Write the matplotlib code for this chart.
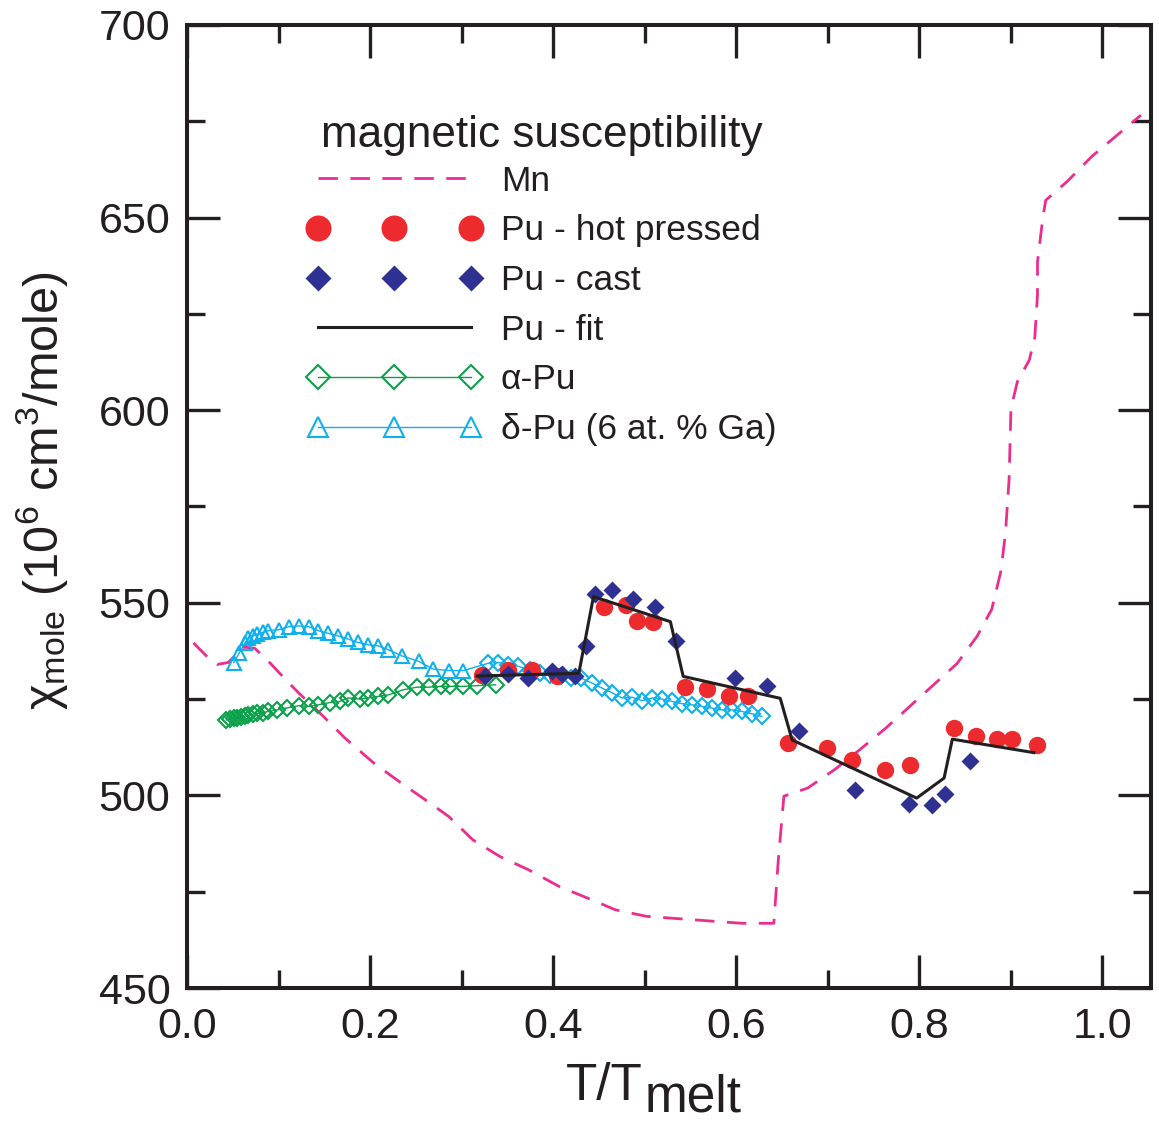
import numpy as np
import matplotlib
matplotlib.use("Agg")
from matplotlib import pyplot as plt

plt.rcParams['font.family'] = ['Liberation Sans', 'DejaVu Sans']
plt.rcParams['mathtext.fontset'] = 'custom'
plt.rcParams['mathtext.rm'] = 'Liberation Sans'
plt.rcParams['mathtext.it'] = 'Liberation Sans:italic'
plt.rcParams['mathtext.bf'] = 'Liberation Sans:bold'

# Mn (dashed)
mn_x = [0.007, 0.022, 0.033, 0.045, 0.062, 0.074, 0.091, 0.104, 0.122, 0.149, 0.172,
        0.204, 0.234, 0.260, 0.286, 0.312, 0.342, 0.373, 0.407, 0.438, 0.468, 0.502,
        0.554, 0.606, 0.641, 0.646, 0.652, 0.678, 0.708, 0.734, 0.763, 0.789, 0.815,
        0.841, 0.863, 0.879, 0.889, 0.894, 0.898, 0.900, 0.907, 0.920, 0.926, 0.929,
        0.929, 0.935, 0.938, 0.962, 0.988, 1.016, 1.042]
mn_y = [539.6, 536.0, 534.0, 534.5, 538.5, 538.2, 534.3, 531.0, 526.6, 520.5, 515.0,
        508.4, 503.2, 498.9, 494.5, 488.5, 484.1, 480.7, 476.3, 473.3, 470.3, 468.6,
        467.7, 466.8, 466.8, 483.6, 499.8, 501.9, 506.8, 511.7, 517.4, 523.0, 528.6,
        534.2, 541.3, 548.3, 558.2, 568.0, 582.1, 600.4, 607.4, 613.0, 618.7, 629.9,
        638.4, 650.3, 654.5, 659.5, 665.8, 671.4, 676.6]

# Pu - hot pressed
hp_x = [0.322, 0.351, 0.377, 0.404, 0.455, 0.479, 0.491, 0.509, 0.544, 0.568, 0.592,
        0.613, 0.657, 0.699, 0.726, 0.762, 0.790, 0.838, 0.862, 0.885, 0.901, 0.929]
hp_y = [531.3, 532.5, 532.5, 531.0, 549.0, 549.5, 545.4, 544.9, 528.1, 527.6, 525.9,
        525.9, 513.7, 512.4, 509.2, 506.6, 507.9, 517.5, 515.3, 514.6, 514.6, 513.1]

# Pu - cast
cast_x = [0.326, 0.351, 0.373, 0.399, 0.410, 0.424, 0.436, 0.446, 0.464, 0.487, 0.511,
          0.534, 0.599, 0.633, 0.668, 0.730, 0.789, 0.814, 0.828, 0.855]
cast_y = [530.9, 531.5, 530.5, 532.2, 531.5, 530.9, 538.8, 552.3, 553.2, 551.0, 548.9,
          540.2, 530.5, 528.3, 516.7, 501.5, 497.8, 497.6, 500.3, 509.0]

# Pu - fit
fit_x = [0.317, 0.428, 0.444, 0.528, 0.542, 0.648, 0.661, 0.797, 0.827, 0.836, 0.925]
fit_y = [531.0, 531.7, 551.6, 545.1, 530.9, 525.2, 514.4, 499.3, 504.5, 514.6, 511.1]

# alpha-Pu
alpha_x = [0.043, 0.047, 0.051, 0.055, 0.059, 0.063, 0.067, 0.072, 0.076, 0.083, 0.089,
           0.098, 0.109, 0.122, 0.133, 0.143, 0.156, 0.167, 0.176, 0.189, 0.198, 0.209,
           0.220, 0.236, 0.251, 0.264, 0.277, 0.287, 0.302, 0.317, 0.337]
alpha_y = [519.6, 519.8, 520.0, 520.2, 520.4, 520.6, 520.8, 521.1, 521.3, 521.5, 521.8,
           522.2, 522.7, 523.3, 523.1, 523.5, 524.1, 524.4, 525.3, 525.0, 525.3, 525.7,
           526.1, 527.4, 528.1, 528.1, 528.3, 528.3, 528.3, 528.5, 528.7]

# delta-Pu (6 at. % Ga): triangles at low T, open diamonds above
dtri_x = [0.051, 0.057, 0.063, 0.067, 0.072, 0.077, 0.083, 0.089, 0.100, 0.111, 0.122,
          0.133, 0.143, 0.154, 0.165, 0.176, 0.187, 0.198, 0.209, 0.220, 0.235, 0.253,
          0.269, 0.286, 0.302]
dtri_y = [534.5, 536.9, 539.5, 540.8, 541.4, 541.9, 542.3, 542.8, 543.0, 543.8, 544.0,
          543.8, 542.8, 542.1, 541.4, 540.6, 539.7, 539.1, 538.8, 537.8, 536.2, 534.8,
          532.8, 532.4, 532.4]
ddia_x = [0.329, 0.340, 0.351, 0.362, 0.375, 0.386, 0.397, 0.408, 0.419, 0.430, 0.442,
          0.453, 0.464, 0.475, 0.486, 0.497, 0.508, 0.519, 0.530, 0.541, 0.552, 0.563,
          0.573, 0.584, 0.595, 0.606, 0.617, 0.628]
ddia_y = [534.3, 534.5, 533.9, 533.5, 532.6, 531.8, 531.3, 531.0, 530.5, 530.5, 529.2,
          527.9, 526.7, 525.3, 525.5, 524.6, 525.3, 525.0, 524.4, 523.8, 523.5, 523.1,
          522.7, 522.2, 522.2, 521.8, 521.2, 520.5]

pink = '#EC2D8F'
red = '#ED2B2F'
navy = '#2E3192'
green = '#0BA14B'
cyan = '#10B0EC'
black = '#231F20'

W, H = 1159, 1130
fig = plt.figure(figsize=(W / 100, H / 100), dpi=100)
ax = fig.add_axes([0.16135, 0.12566, 0.83175, 0.85222])

ax.plot(mn_x, mn_y, color=pink, lw=2.0, ls=(0, (7, 4.5)), label='Mn', zorder=2)
ax.plot(alpha_x, alpha_y, '-', color=green, lw=1.0, marker='D', ms=8, mfc='none',
        mec=green, mew=1.5, label='α-Pu', zorder=3)
ax.plot(np.concatenate([dtri_x, ddia_x]), np.concatenate([dtri_y, ddia_y]), '-',
        color=cyan, lw=1.0, zorder=3)
ax.plot(dtri_x, dtri_y, 'none', marker='^', ms=10, mfc='none', mec=cyan, mew=1.5,
        zorder=3)
ax.plot(ddia_x, ddia_y, 'none', marker='D', ms=8, mfc='none', mec=cyan, mew=1.5,
        zorder=3)
ax.plot(hp_x, hp_y, 'o', color=red, ms=12.5, mec='none', label='Pu - hot pressed', zorder=4)
ax.plot(cast_x, cast_y, 'D', color=navy, ms=9, mec='none', label='Pu - cast', zorder=5)
ax.plot(fit_x, fit_y, '-', color=black, lw=2.2, label='Pu - fit', zorder=6)
# legend entry for delta-Pu
ax.plot([], [], '-', color=cyan, lw=1.0, marker='^', ms=10, mfc='none',
        mec=cyan, mew=1.5, label='δ-Pu (6 at. % Ga)')

ax.set_xlim(0, 1.053)
ax.set_ylim(450, 700)
ax.set_xticks([0.0, 0.2, 0.4, 0.6, 0.8, 1.0])
ax.set_xticklabels(['0.0', '0.2', '0.4', '0.6', '0.8', '1.0'])
ax.set_xticks(np.arange(0.1, 1.05, 0.2), minor=True)
ax.set_yticks(np.arange(450, 701, 50))
ax.set_yticks(np.arange(475, 700, 50), minor=True)
ax.tick_params(which='both', direction='in', top=True, right=True, width=2.4,
               color=black, labelsize=31, labelcolor=black)
ax.tick_params(which='major', length=24)
ax.tick_params(which='minor', length=13)
ax.tick_params(axis='x', pad=14)
ax.tick_params(axis='y', pad=12)
for sp in ax.spines.values():
    sp.set_linewidth(2.9)
    sp.set_color(black)

handles, labels = ax.get_legend_handles_labels()
order = ['Mn', 'Pu - hot pressed', 'Pu - cast', 'Pu - fit', 'α-Pu', 'δ-Pu (6 at. % Ga)']
hmap = dict(zip(labels, handles))
leg = ax.legend([hmap[k] for k in order], order,
                numpoints=3, frameon=False, fontsize=25.5,
                handlelength=4.9, handletextpad=0.56, labelspacing=0.47,
                markerscale=1.5, loc='upper left', bbox_to_anchor=(0.1251, 0.8549),
                borderaxespad=0, borderpad=0)
for t in leg.get_texts():
    t.set_color(black)
# legend heading
ax.text(0.3683, 0.8733, 'magnetic susceptibility', transform=ax.transAxes,
        ha='center', va='baseline', fontsize=31.8, color=black)

fig.text(42 / W, 1 - 491 / H,
         r'$\mathregular{χ_{mole}}$ (10$^{\mathregular{6}}$ cm$^{\mathregular{3}}$/mole)',
         rotation=90, ha='center', va='center', fontsize=35, color=black)
# x label: "melt" is set at full size, just lowered
fig.text(643 / W, 1 - 1100 / H, 'T/T', ha='right', va='baseline', fontsize=37,
         color=black)
fig.text(645 / W, 1 - 1112 / H, 'melt', ha='left', va='baseline', fontsize=37,
         color=black)

fig.savefig('out.png', dpi=100)
